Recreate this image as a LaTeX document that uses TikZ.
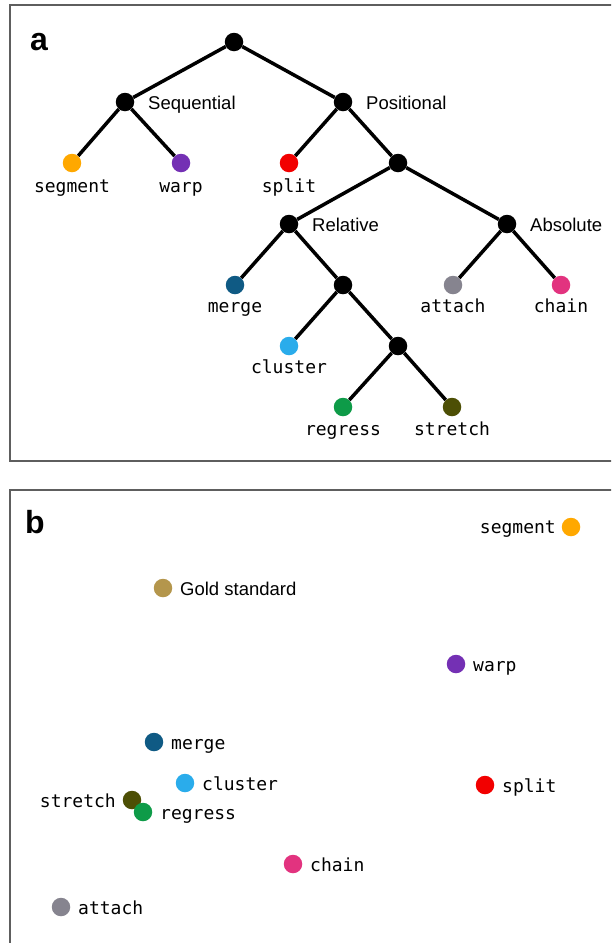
\documentclass[tikz,border=0pt]{standalone}
\usepackage{fontspec}
\setmainfont{Liberation Sans}
\newfontfamily\monof{DejaVu Sans Mono}
\definecolor{cseg}{HTML}{FFA800}
\definecolor{cwarp}{HTML}{7430B4}
\definecolor{csplit}{HTML}{F20000}
\definecolor{cmerge}{HTML}{0F5A84}
\definecolor{cclus}{HTML}{2AACEB}
\definecolor{creg}{HTML}{0E9B48}
\definecolor{cstr}{HTML}{4D4F05}
\definecolor{catt}{HTML}{86848F}
\definecolor{cchain}{HTML}{E2337F}
\definecolor{cgold}{HTML}{B4964C}
\definecolor{cframe}{HTML}{5E5E5E}
\tikzset{
  dot/.style={circle, inner sep=0pt, minimum size=18.5pt, fill=#1},
  inner/.style={dot=black},
  edge/.style={line width=3.5pt, black},
  monolab/.style={font=\monof\fontsize{18}{20}\selectfont, inner sep=0pt, anchor=base},
  sanslab/.style={font=\fontsize{18.5}{20}\selectfont, inner sep=0pt, anchor=base west},
  panellab/.style={font=\bfseries\fontsize{32}{34}\selectfont, inner sep=0pt, anchor=base},
  frame/.style={draw=cframe, line width=2pt}
}
\begin{document}
\begin{tikzpicture}[x=1pt,y=-1pt]
\useasboundingbox (0,0) rectangle (611,943);
\begin{scope}
\clip (0,0) rectangle (611,943);
\draw[frame] (10,5) rectangle (625,461);
\draw[frame] (10,490) rectangle (625,955);
\end{scope}
% ---------- panel a ----------
\node[panellab] (la) at (39,50) {a};
\node[inner] (root) at (234,42) {};
\node[inner] (seq) at (125,102) {};
\node[inner] (pos) at (343,102) {};
\node[dot=cseg] (segA) at (72,163) {};
\node[dot=cwarp] (warpA) at (181,163) {};
\node[dot=csplit] (splitA) at (289,163) {};
\node[inner] (p2) at (398,163) {};
\node[inner] (rel) at (289,224) {};
\node[inner] (abs) at (507,224) {};
\node[dot=cmerge] (mergeA) at (235,285) {};
\node[inner] (r2) at (343,285) {};
\node[dot=catt] (attA) at (453,285) {};
\node[dot=cchain] (chainA) at (561,285) {};
\node[dot=cclus] (clusA) at (289,346) {};
\node[inner] (r3) at (398,346) {};
\node[dot=creg] (regA) at (343,407) {};
\node[dot=cstr] (strA) at (452,407) {};
\draw[edge] (root) -- (seq);
\draw[edge] (root) -- (pos);
\draw[edge] (seq) -- (segA);
\draw[edge] (seq) -- (warpA);
\draw[edge] (pos) -- (splitA);
\draw[edge] (pos) -- (p2);
\draw[edge] (p2) -- (rel);
\draw[edge] (p2) -- (abs);
\draw[edge] (rel) -- (mergeA);
\draw[edge] (rel) -- (r2);
\draw[edge] (abs) -- (attA);
\draw[edge] (abs) -- (chainA);
\draw[edge] (r2) -- (clusA);
\draw[edge] (r2) -- (r3);
\draw[edge] (r3) -- (regA);
\draw[edge] (r3) -- (strA);
\node[sanslab] (tseq) at (148,109) {Sequential};
\node[sanslab] (tpos) at (366,109) {Positional};
\node[sanslab] (trel) at (312,231) {Relative};
\node[sanslab] (tabs) at (530,231) {Absolute};
\node[monolab] (tsegA) at (72,192) {segment};
\node[monolab] (twarpA) at (181,192) {warp};
\node[monolab] (tsplitA) at (289,192) {split};
\node[monolab] (tmergeA) at (235,312) {merge};
\node[monolab] (tattA) at (453,312) {attach};
\node[monolab] (tchainA) at (561,312) {chain};
\node[monolab] (tclusA) at (289,373) {cluster};
\node[monolab] (tregA) at (343,435) {regress};
\node[monolab] (tstrA) at (452,435) {stretch};
% ---------- panel b ----------
\node[panellab] (lb) at (35,533) {b};
\node[dot=cseg] (segB) at (571,527) {};
\node[monolab, anchor=base east] (tsegB) at (556,533) {segment};
\node[dot=cgold] (gold) at (163,588) {};
\node[sanslab] (tgold) at (180,595) {Gold standard};
\node[dot=cwarp] (warpB) at (456,664) {};
\node[monolab, anchor=base west] (twarpB) at (473,671) {warp};
\node[dot=cmerge] (mergeB) at (154,742) {};
\node[monolab, anchor=base west] (tmergeB) at (171,749) {merge};
\node[dot=cclus] (clusB) at (185,783) {};
\node[monolab, anchor=base west] (tclusB) at (202,790) {cluster};
\node[dot=csplit] (splitB) at (485,785) {};
\node[monolab, anchor=base west] (tsplitB) at (502,792) {split};
\node[dot=cstr] (strB) at (132,800) {};
\node[dot=creg] (regB) at (143,812) {};
\node[monolab, anchor=base east] (tstrB) at (116,807) {stretch};
\node[monolab, anchor=base west] (tregB) at (160,819) {regress};
\node[dot=cchain] (chainB) at (293,864) {};
\node[monolab, anchor=base west] (tchainB) at (310,871) {chain};
\node[dot=catt] (attB) at (61,907) {};
\node[monolab, anchor=base west] (tattB) at (78,914) {attach};
\end{tikzpicture}
\end{document}
